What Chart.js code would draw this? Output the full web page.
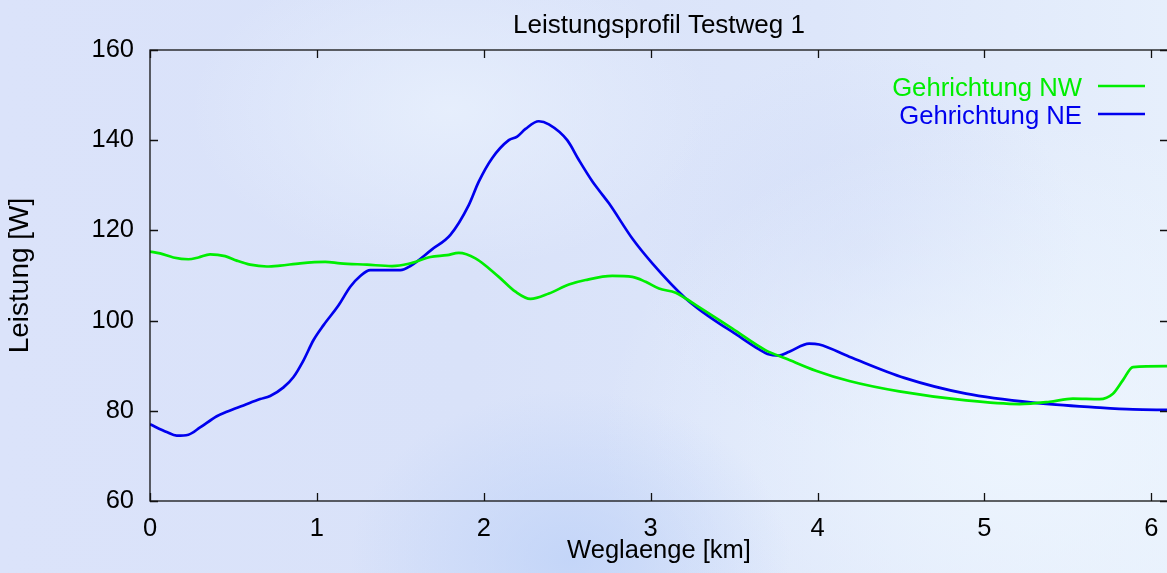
<!DOCTYPE html>
<html>
<head>
<meta charset="utf-8">
<script src="https://cdn.jsdelivr.net/npm/chart.js@4/dist/chart.umd.min.js"></script>
<style>
  html, body { margin: 0; padding: 0; overflow: hidden; }
  body {
    width: 1167px; height: 573px;
    background:
      radial-gradient(ellipse 220px 170px at 570px 560px, rgba(190,210,248,0.8), rgba(190,210,248,0) 100%),
      radial-gradient(ellipse 420px 320px at 1020px 440px, rgba(238,246,254,0.9), rgba(238,246,254,0) 100%),
      radial-gradient(ellipse 260px 160px at 450px 110px, rgba(233,241,253,0.8), rgba(233,241,253,0) 100%),
      radial-gradient(ellipse 220px 200px at 860px 250px, rgba(206,217,247,0.5), rgba(206,217,247,0) 100%),
      linear-gradient(90deg, #dbe3fa 0%, #d9e2f9 40%, #dde6fa 70%, #e6effc 100%);
  }
  #wrap { width: 1180px; height: 573px; }
</style>
</head>
<body>
<div id="wrap"><canvas id="chart" width="1180" height="573"></canvas></div>
<script>
// Leistungsprofil values
const nwKm = [0, 0.06, 0.14, 0.23, 0.29, 0.36, 0.45, 0.52, 0.6, 0.7,
  0.78, 0.9, 1.05, 1.14, 1.3, 1.45, 1.55, 1.68, 1.78, 1.85,
  1.95, 2.09, 2.19, 2.28, 2.39, 2.51, 2.61, 2.77, 2.89, 2.97,
  3.05, 3.15, 3.21, 3.29, 3.49, 3.69, 3.81, 3.99, 4.19, 4.49,
  4.89, 5.21, 5.39, 5.53, 5.69, 5.77, 5.83, 5.89, 6.1];
const nwWatt = [115.3, 114.9, 114.0, 113.6, 114.0, 114.7, 114.3, 113.3, 112.4, 112.0,
  112.2, 112.7, 113.0, 112.7, 112.4, 112.1, 112.6, 114.1, 114.5, 115.0,
  113.8, 109.7, 106.4, 104.8, 106.0, 108.0, 109.0, 109.9, 109.7, 108.6,
  107.1, 106.2, 104.9, 103.0, 98.2, 93.4, 91.6, 88.9, 86.6, 84.3,
  82.3, 81.5, 82.0, 82.7, 82.6, 83.8, 86.8, 89.7, 89.9];

const neKm = [0, 0.1, 0.16, 0.23, 0.3, 0.4, 0.46, 0.56, 0.66, 0.72,
  0.8, 0.86, 0.92, 0.98, 1.04, 1.13, 1.2, 1.26, 1.32, 1.5,
  1.56, 1.69, 1.8, 1.91, 1.97, 2.05, 2.15, 2.2, 2.25, 2.33,
  2.39, 2.5, 2.57, 2.65, 2.69, 2.75, 2.89, 3.01, 3.21, 3.29, 3.41, 3.49,
  3.65, 3.7, 3.77, 3.83, 3.95, 4.01, 4.19, 4.52, 4.89, 5.29,
  5.69, 5.89, 6.1];
const neWatt = [77.0, 75.3, 74.5, 74.7, 76.3, 78.8, 79.8, 81.2, 82.6, 83.3,
  85.2, 87.5, 91.2, 95.7, 99.0, 103.4, 107.5, 109.9, 111.2, 111.2,
  112.1, 115.8, 119.0, 125.6, 130.8, 136.0, 140.0, 140.8, 142.5, 144.2,
  143.5, 140.0, 135.6, 130.9, 128.9, 126.0, 118.2, 112.7, 104.9, 102.5, 99.4, 97.5,
  93.6, 92.6, 92.25, 93.1, 94.9, 94.7, 92.0, 87.3, 83.8, 81.8,
  80.7, 80.3, 80.2];

const seriesLabels = ['Gehrichtung NW', 'Gehrichtung NE'];
const xTicks = [0, 1, 2, 3, 4, 5, 6];
const yTicks = [60, 80, 100, 120, 140, 160];

const FONT = 'Liberation Sans, Arial, Helvetica, sans-serif';
Chart.defaults.font.family = FONT;
Chart.defaults.font.size = 25;
Chart.defaults.color = '#000';

function toPoints(xs, ys) {
  return xs.map((x, i) => ({ x: x, y: ys[i] }));
}

// gnuplot style frame with inward ticks on all four sides
const framePlugin = {
  id: 'frame',
  afterDatasetsDraw(chart) {
    const { ctx, chartArea: a, scales } = chart;
    ctx.save();
    ctx.strokeStyle = '#111';
    ctx.lineWidth = 1.3;
    ctx.strokeRect(a.left, a.top, a.right - a.left, a.bottom - a.top);
    ctx.beginPath();
    xTicks.forEach(v => {
      const px = Math.round(scales.x.getPixelForValue(v)) + 0.5;
      ctx.moveTo(px, a.bottom); ctx.lineTo(px, a.bottom - 8);
      ctx.moveTo(px, a.top); ctx.lineTo(px, a.top + 8);
    });
    yTicks.forEach(v => {
      const py = Math.round(scales.y.getPixelForValue(v)) + 0.5;
      ctx.moveTo(a.left, py); ctx.lineTo(a.left + 8, py);
      ctx.moveTo(a.right, py); ctx.lineTo(a.right - 8, py);
    });
    ctx.stroke();
    ctx.restore();
  }
};

// key in the top right corner: text first, line sample after it
const keyPlugin = {
  id: 'key',
  afterDraw(chart) {
    const { ctx, chartArea: a } = chart;
    ctx.save();
    ctx.font = '25.7px ' + FONT;
    ctx.textAlign = 'right';
    ctx.textBaseline = 'alphabetic';
    chart.data.datasets.forEach((ds, i) => {
      const y = a.top + 36 + i * 28;
      ctx.fillStyle = ds.borderColor;
      ctx.fillText(ds.label, a.right - 86, y + 9.5);
      ctx.strokeStyle = ds.borderColor;
      ctx.lineWidth = 2.6;
      ctx.beginPath();
      ctx.moveTo(a.right - 70, y);
      ctx.lineTo(a.right - 23, y);
      ctx.stroke();
    });
    ctx.restore();
  }
};

new Chart(document.getElementById('chart'), {
  type: 'line',
  data: {
    datasets: [
      {
        label: seriesLabels[0],
        data: toPoints(nwKm, nwWatt),
        borderColor: '#00ee00',
        borderWidth: 2.7,
        pointRadius: 0,
        cubicInterpolationMode: 'monotone'
      },
      {
        label: seriesLabels[1],
        data: toPoints(neKm, neWatt),
        borderColor: '#0000ee',
        borderWidth: 2.7,
        pointRadius: 0,
        cubicInterpolationMode: 'monotone'
      }
    ]
  },
  options: {
    responsive: false,
    animation: false,
    events: [],
    layout: { padding: { left: 0, right: 12, top: 0, bottom: 0 } },
    plugins: {
      legend: { display: false },
      tooltip: { enabled: false },
      title: {
        display: true,
        text: 'Leistungsprofil Testweg 1',
        fullSize: false,
        color: '#000',
        font: { size: 26, weight: 'normal' },
        padding: { top: 10, bottom: 8.8 }
      }
    },
    scales: {
      x: {
        type: 'linear',
        min: 0,
        max: 6.1,
        afterFit(scale) { scale.height = 72; },
        afterBuildTicks(scale) { scale.ticks = xTicks.map(v => ({ value: v })); },
        grid: { display: false, drawTicks: false },
        border: { display: false },
        ticks: { padding: 13, color: '#000', font: { size: 25.5 } },
        title: {
          display: true,
          text: 'Weglaenge [km]',
          color: '#000',
          font: { size: 25.5 },
          padding: { top: 0, bottom: 6.5 }
        }
      },
      y: {
        min: 60,
        max: 160,
        afterFit(scale) { scale.width = 150; },
        afterBuildTicks(scale) { scale.ticks = yTicks.map(v => ({ value: v })); },
        grid: { display: false, drawTicks: false },
        border: { display: false },
        ticks: { padding: 16, color: '#000', font: { size: 25.5 } },
        title: {
          display: true,
          text: 'Leistung [W]',
          color: '#000',
          font: { size: 28 },
          padding: { top: 3, bottom: 0 }
        }
      }
    }
  },
  plugins: [framePlugin, keyPlugin]
});
</script>
</body>
</html>
